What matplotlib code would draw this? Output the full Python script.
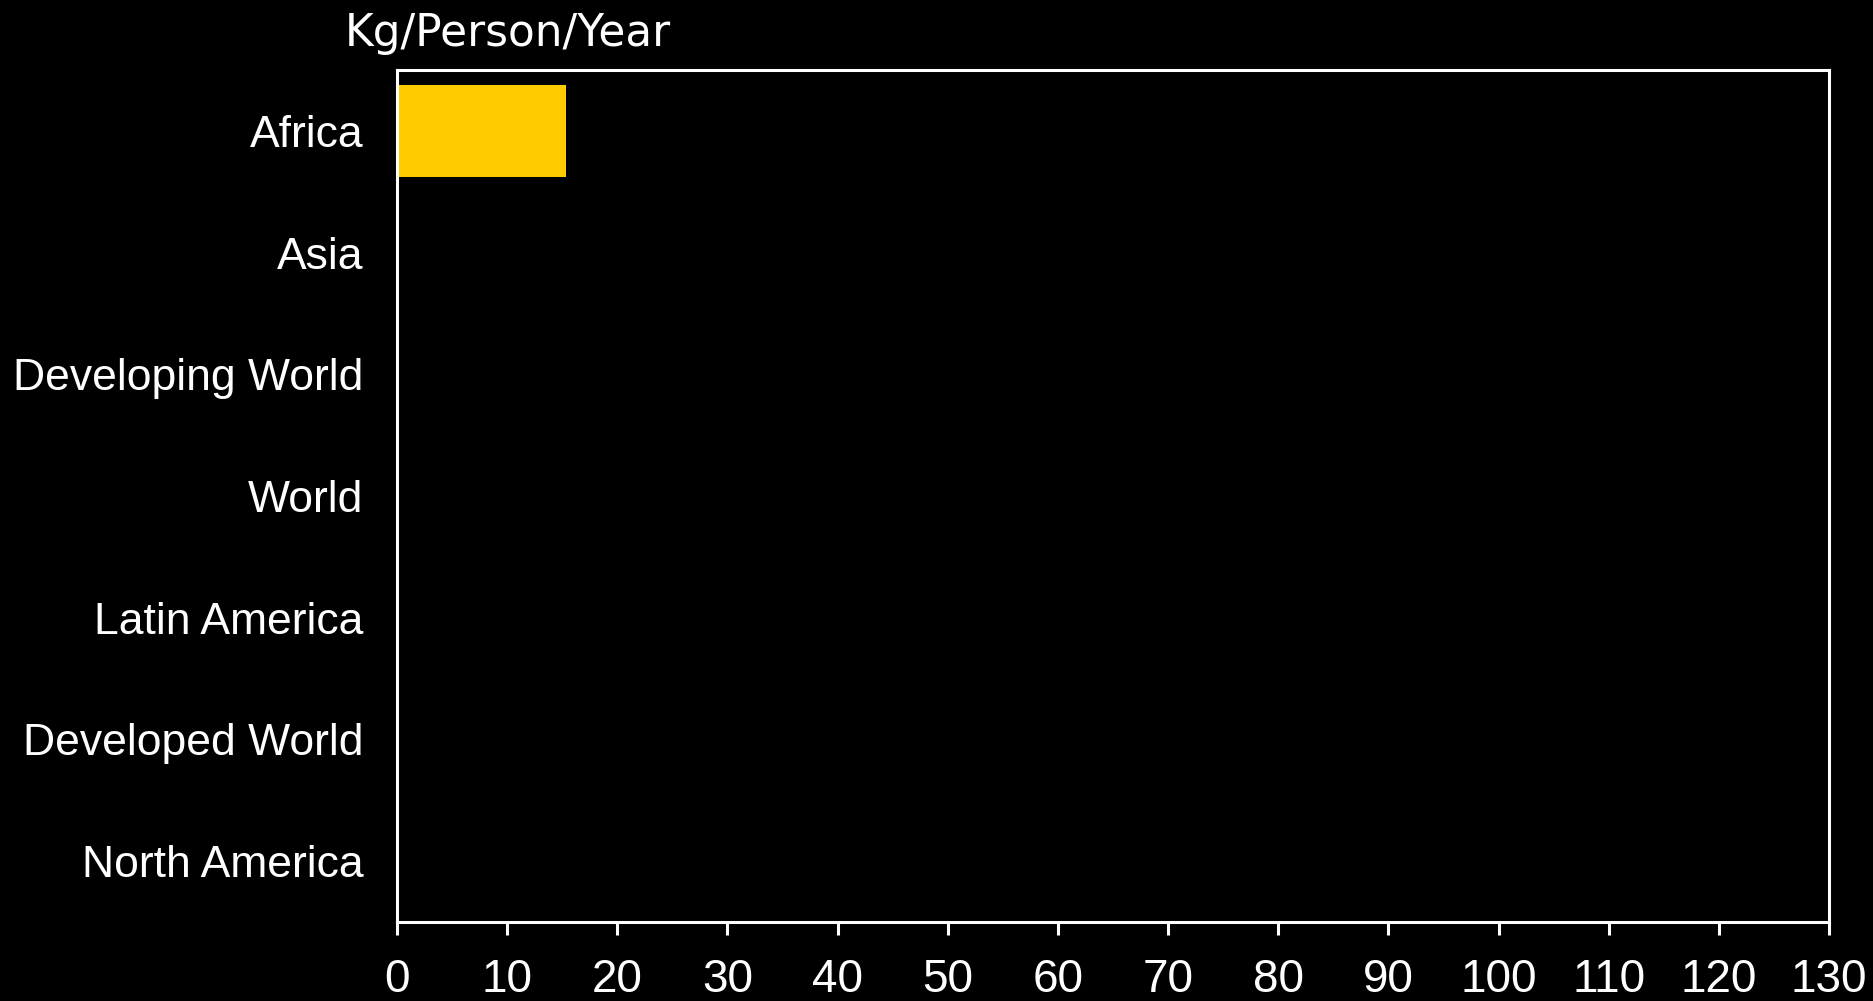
import matplotlib
matplotlib.use("Agg")
import matplotlib.pyplot as plt
import numpy as np

categories = ["Africa", "Asia", "Developing World", "World",
              "Latin America", "Developed World", "North America"]
values = [15.3, 0, 0, 0, 0, 0, 0]
xticks = list(range(0, 131, 10))
title = "Kg/Person/Year"

fig = plt.figure(figsize=(18.74, 10.01), dpi=100, facecolor="black")
ax = fig.add_axes([397/1874, 1 - 922/1001, (1829 - 397)/1874, (922 - 70)/1001])
ax.set_facecolor("black")

y = np.arange(len(categories))
ax.barh(y, values, height=0.76, color="#FFCC00", edgecolor="none")
ax.set_ylim(len(categories) - 0.5, -0.5)
ax.set_xlim(0, 130)
ax.set_yticks(y)
ax.set_yticklabels(categories, family="Liberation Sans", fontsize=32, color="white")
ax.set_xticks(xticks)
ax.set_xticklabels([str(t) for t in xticks], family="Liberation Sans", fontsize=33, color="white")
ax.tick_params(axis="y", length=0, pad=24)
ax.tick_params(axis="x", length=9, width=2.2, color="white", pad=17, direction="out")
for s in ax.spines.values():
    s.set_color("white")
    s.set_linewidth(2.2)

fig.text(345/1874, 1 - 46/1001, title, family="DejaVu Sans", fontsize=31.5,
         color="white", ha="left", va="baseline")

fig.savefig("out.png", dpi=100, facecolor="black")
